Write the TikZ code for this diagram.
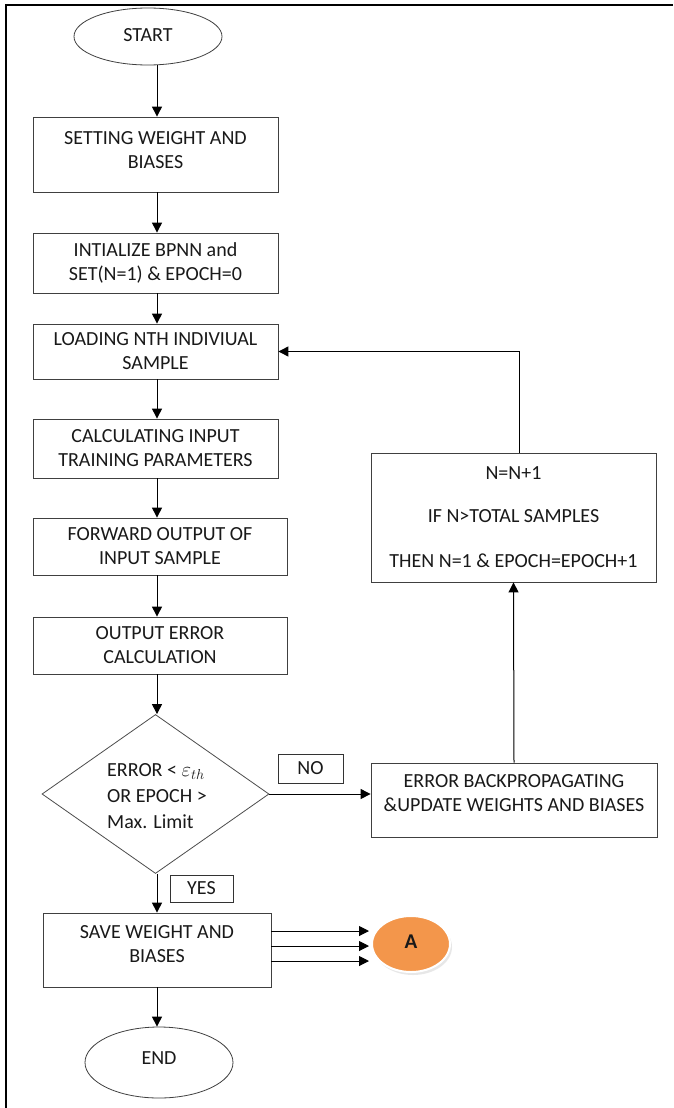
\documentclass[tikz,border=0pt]{standalone}
\usepackage{fontspec}
\setmainfont{Carlito}
\usetikzlibrary{shapes.geometric,arrows.meta,shadows}
\definecolor{aorange}{RGB}{243,150,75}
\begin{document}
\begin{tikzpicture}[x=1pt,y=-1pt,
  box/.style={draw=black!75, line width=0.8pt, text=black!90, align=center, inner sep=0pt, font=\fontsize{20}{24}\selectfont},
  txt/.style={text=black!90, align=center, inner sep=0pt, font=\fontsize{20}{24}\selectfont},
  ell/.style={ellipse, draw=black!75, line width=0.8pt, text=black!90, inner sep=0pt, font=\fontsize{20}{24}\selectfont},
  arr/.style={-{Triangle[length=10pt,width=10pt]}, line width=1pt, draw=black},
  tag/.style={draw=black!80, line width=0.8pt, text=black!90, inner sep=0pt, font=\fontsize{20}{24}\selectfont}
]
\useasboundingbox (0,0) rectangle (673,1108);
\fill[white] (0,0) rectangle (673,1108);
\draw[line width=2pt] (6,1108) -- (6,5) -- (673,5);

\coordinate (axis) at (157,0);

\node[ell, minimum width=148pt, minimum height=57pt] (start) at (148,36.5) {\raisebox{3pt}{START}};

\node[box, minimum width=245pt, minimum height=75pt] (b1) at (155.5,154.5) {};
\node[txt] (b1t) at ([yshift=4.5pt]b1.center) {SETTING WEIGHT AND\\BIASES};

\node[box, minimum width=245pt, minimum height=60pt] (b2) at (155.5,263) {INTIALIZE BPNN and\\SET(N=1) \& EPOCH=0};
\node[box, minimum width=245pt, minimum height=55pt] (b3) at (155.5,351.5) {LOADING NTH INDIVIUAL\\SAMPLE};
\node[box, minimum width=245pt, minimum height=59pt] (b4) at (155.5,448.5) {CALCULATING INPUT\\TRAINING PARAMETERS};
\node[box, minimum width=254pt, minimum height=57pt] (b5) at (160,546.5) {FORWARD OUTPUT OF\\INPUT SAMPLE};
\node[box, minimum width=254pt, minimum height=57pt] (b6) at (160,645.5) {OUTPUT ERROR\\CALCULATION};

\node[diamond, draw=black!70, line width=0.8pt, minimum width=227pt, minimum height=159pt, inner sep=0pt] (dia) at (155.5,794) {};
\node[txt, align=left, anchor=west, font=\fontsize{20}{26}\selectfont] (diat) at (107,796) {ERROR < $\varepsilon_{th}$\\OR EPOCH >\\Max. Limit};

\node[tag, minimum width=65pt, minimum height=29pt] (no) at (310.5,768.5) {NO};
\node[tag, minimum width=63pt, minimum height=27pt] (yes) at (201.5,888.5) {YES};

\node[box, minimum width=286pt, minimum height=74pt] (ebox) at (514,800) {};
\node[txt] (eboxt) at ([yshift=6.5pt]ebox.center) {ERROR BACKPROPAGATING\\\&UPDATE WEIGHTS AND BIASES};

\node[box, minimum width=285pt, minimum height=129pt] (nbox) at (513.5,517.5) {N=N+1\\[19pt]IF N>TOTAL SAMPLES\\[21pt]THEN N=1 \& EPOCH=EPOCH+1};

\node[box, minimum width=228pt, minimum height=74pt] (save) at (157,950) {};
\node[txt] (savet) at ([yshift=6pt]save.center) {SAVE WEIGHT AND\\BIASES};

\node[ellipse, fill=aorange, draw=white, line width=2pt, minimum width=78pt, minimum height=56pt, inner sep=0pt,
      drop shadow={shadow xshift=2pt, shadow yshift=-3pt, fill=black!18},
      font=\fontsize{21}{24}\selectfont\bfseries, text=black!90] (A) at (411,944) {\raisebox{4pt}{A}};
\coordinate (aend) at ([xshift=-2pt]A.west);

\node[ell, minimum width=148pt, minimum height=71pt] (end) at (159,1062.5) {\raisebox{9pt}{END}};

\draw[arr] (start.south -| axis) -- (b1.north -| axis);
\draw[arr] (b1.south -| axis) -- (b2.north -| axis);
\draw[arr] (b2.south -| axis) -- (b3.north -| axis);
\draw[arr] (b3.south -| axis) -- (b4.north -| axis);
\draw[arr] (b4.south -| axis) -- (b5.north -| axis);
\draw[arr] (b5.south -| axis) -- (b6.north -| axis);
\draw[arr] (b6.south -| axis) -- (dia.north -| axis);
\draw[arr] (dia.east) -- (dia.east -| ebox.west);
\draw[arr] (ebox.north) -- (nbox.south);
\draw[arr] ([xshift=5.5pt]nbox.north) |- (b3.east);
\draw[arr] (dia.south -| axis) -- (save.north -| axis);
\draw[arr] ([yshift=19pt]save.east) -- ([yshift=19pt]save.east -| aend);
\draw[arr] ([yshift=4pt]save.east) -- ([yshift=4pt]save.east -| aend);
\draw[arr] ([yshift=-11pt]save.east) -- ([yshift=-11pt]save.east -| aend);
\draw[arr] (save.south -| axis) -- (end.north -| axis);
\end{tikzpicture}
\end{document}
